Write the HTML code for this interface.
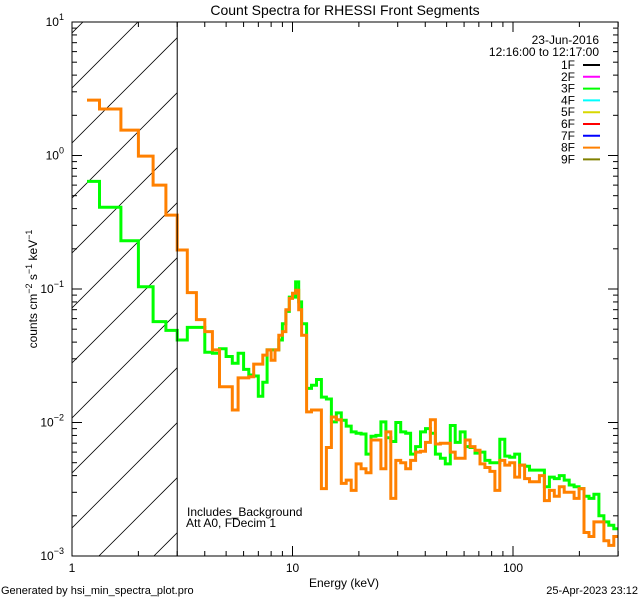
<!DOCTYPE html>
<html><head><meta charset="utf-8"><style>
html,body{margin:0;padding:0;background:#fff;width:640px;height:600px;overflow:hidden;}
svg{display:block;font-family:"Liberation Sans",sans-serif;}
</style></head><body>
<svg id="chart" width="640" height="600" viewBox="0 0 640 600" xmlns="http://www.w3.org/2000/svg">
<rect width="640" height="600" fill="#fff"/>
<defs><clipPath id="plotclip"><rect x="72" y="22" width="546" height="534"/></clipPath>
<clipPath id="hatchclip"><rect x="72" y="22" width="105" height="534"/></clipPath></defs>
<text x="345" y="15" font-size="14" text-anchor="middle">Count Spectra for RHESSI Front Segments</text>
<g id="hatch" clip-path="url(#hatchclip)"></g>
<g id="series" clip-path="url(#plotclip)"></g>
<g id="axes"></g>
<text transform="translate(37,289) rotate(-90)" font-size="12" text-anchor="middle">counts cm<tspan dy="-5" font-size="9">−2</tspan><tspan dy="5"> s</tspan><tspan dy="-5" font-size="9">−1</tspan><tspan dy="5"> keV</tspan><tspan dy="-5" font-size="9">−1</tspan></text>
<text x="344" y="587" font-size="12" text-anchor="middle">Energy (keV)</text>
<text x="599" y="44" font-size="12" text-anchor="end">23-Jun-2016</text>
<text x="599" y="56" font-size="12" text-anchor="end">12:16:00 to 12:17:00</text>
<g id="legend"></g>
<text x="187" y="516" font-size="12">Includes_Background</text>
<text x="186" y="527" font-size="12">Att A0, FDecim 1</text>
<text x="1" y="594" font-size="11">Generated by hsi_min_spectra_plot.pro</text>
<text x="638" y="594" font-size="11" text-anchor="end">25-Apr-2023 23:12</text>
</svg>
<script>
// ---- data ----
const lowEdges = [1.17,1.333,1.667,2.0,2.333,2.667,3.0,3.333,3.667,4.0,4.333,4.667,5.0,5.333,5.667,6.0,6.333,6.667,7.0,7.333,7.667,8.0,8.333,8.667,9.0,9.333,9.667,10.0,10.333,10.667,11.0];
const highBinCount = 64;
const highBinRatio = 1.0531;
const green3F = [0.64,0.41,0.23,0.104,0.057,0.049,
 0.0415,0.0516,0.0516,0.0336,0.033,0.0357,0.0312,0.0278,0.033,0.025,0.0227,0.0223,0.0157,0.020,0.035,0.035,0.035,0.0415,0.055,0.068,0.087,0.087,0.113,0.08,
 0.055,0.018,0.019,0.021,0.0155,0.015,0.0101,0.0118,0.0104,0.0094,0.0085,0.0083,0.0082,0.0058,0.0079,0.008,0.0101,0.0077,0.0072,0.01,0.0085,
 0.0083,0.0058,0.0066,0.0085,0.009,0.0083,0.0058,0.0054,0.0049,0.0095,0.0071,0.0085,0.0066,0.0065,0.0059,0.006,0.0052,0.005,0.005,0.0075,0.0056,
 0.0055,0.0058,0.0048,0.0047,0.0044,0.0044,0.0044,0.0033,0.0039,0.0038,0.004,0.0037,0.0034,0.0033,0.0032,0.0028,0.0027,0.0029,0.002,0.0018,0.0017,0.0016];
const orange8F = [2.6,2.23,1.55,0.99,0.60,0.358,
 0.196,0.094,0.059,0.048,0.035,0.0185,0.0185,0.0124,0.0216,0.0216,0.022,0.0274,0.0274,0.032,0.035,0.0293,0.035,0.045,0.048,0.070,0.085,0.093,0.098,0.07,
 0.045,0.012,0.0124,0.0124,0.0032,0.0065,0.011,0.0105,0.0035,0.0037,0.0031,0.0049,0.0045,0.0042,0.0074,0.0074,0.0045,0.0085,0.0027,0.0052,0.005,
 0.0045,0.0052,0.006,0.0061,0.0071,0.0105,0.0069,0.007,0.007,0.006,0.0054,0.0054,0.0074,0.0066,0.0062,0.0049,0.0046,0.0043,0.0031,0.0052,0.0048,
 0.005,0.0039,0.0048,0.0038,0.0036,0.0036,0.004,0.0026,0.0031,0.0028,0.0033,0.003,0.003,0.0027,0.0032,0.0015,0.0014,0.0018,0.0018,0.0013,0.0012,0.0014];
const xTickMajor = [1,10,100];
const xTickLabels = ["1","10","100"];
const yTickExps = [-3,-2,-1,0,1];
const legendLabels = ["1F","2F","3F","4F","5F","6F","7F","8F","9F"];
const legendColors = ["#000000","#ff00ff","#00ff00","#00ffff","#d8d800","#ff0000","#0000ff","#ff8000","#808000"];

// ---- scales ----
const X0=72,X1=618,Y0=22,Y1=556;
const xMin=1, xDec=220.5;
const yTopExp=1, yDec=(Y1-Y0)/4;
const xs = e => X0 + Math.log10(e/xMin)*xDec;
const ys = v => Y0 + (yTopExp - Math.log10(v))*yDec;
const NS="http://www.w3.org/2000/svg";
const svg=document.getElementById('chart');
function mk(tag,attrs,parent){const el=document.createElementNS(NS,tag);for(const k in attrs)el.setAttribute(k,attrs[k]);parent.appendChild(el);return el;}

const edges = lowEdges.slice();
for(let i=0;i<highBinCount;i++) edges.push(edges[edges.length-1]*highBinRatio);

// hatch: 45-degree lines, 55px vertical spacing
const hatch=document.getElementById('hatch');
const hx=xs(3);
for(let c=37.7-55*2;c<Y1+10;c+=55){
  const ln=mk('line',{x1:X0,y1:c+(hx-X0),x2:hx,y2:c,stroke:'#000','stroke-width':0.8},hatch);
  
  
}
const att=mk('line',{x1:hx,y1:Y0,x2:hx,y2:Y1,stroke:'#000','stroke-width':1},svg);



function stepPath(vals){
  let d='';
  for(let i=0;i<vals.length;i++){
    const xa=xs(edges[i]).toFixed(1), xb=xs(edges[i+1]).toFixed(1), y=ys(vals[i]).toFixed(1);
    d += (i===0?'M':'L')+xa+','+y+'L'+xb+','+y;
  }
  return d;
}
const sg=document.getElementById('series');
const pg=mk('path',{d:stepPath(green3F),fill:'none',stroke:'#00ff00','stroke-width':3},sg);


const po=mk('path',{d:stepPath(orange8F),fill:'none',stroke:'#ff8000','stroke-width':3},sg);



const ax=document.getElementById('axes');
const frame=mk('rect',{x:X0,y:Y0,width:X1-X0,height:Y1-Y0,fill:'none',stroke:'#000','stroke-width':1},ax);


for(let d=0;d<3;d++){
  for(let m=1;m<=9;m++){
    const e=xTickMajor[d]*m; const x=xs(e); if(x>X1+0.5) continue;
    const L=(m===1)?10:5;
    const tb=mk('line',{x1:x,y1:Y1,x2:x,y2:Y1-L,stroke:'#000'},ax);
    
    
    const tt=mk('line',{x1:x,y1:Y0,x2:x,y2:Y0+L,stroke:'#000'},ax);
    
    
  }
  const lb=mk('text',{x:xs(xTickMajor[d]),y:572,'font-size':12,'text-anchor':'middle'},ax);
  lb.textContent=xTickLabels[d];
  
  
}
yTickExps.forEach((p)=>{
  const base=Math.pow(10,p);
  for(let m=1;m<=9;m++){
    if(p===1&&m>1) continue;
    const y=ys(base*m); const L=(m===1)?10:5;
    const tl=mk('line',{x1:X0,y1:y,x2:X0+L,y2:y,stroke:'#000'},ax);
    
    
    const tr=mk('line',{x1:X1,y1:y,x2:X1-L,y2:y,stroke:'#000'},ax);
    
    
  }
  const t=mk('text',{x:64,y:ys(base)+4,'font-size':12,'text-anchor':'end'},ax);
  
  
  const a=mk('tspan',{},t); a.textContent='10';
  const b=mk('tspan',{dy:-6,'font-size':9},t); b.textContent=(p<0?'−':'')+Math.abs(p);
});

const lg=document.getElementById('legend');
legendLabels.forEach((lab,i)=>{
  const y=65+i*11.8;
  const g=mk('g',{},lg);
  
  
  const t=mk('text',{x:575,y:y+4,'font-size':12,'text-anchor':'end'},g); t.textContent=lab;
  mk('line',{x1:583,y1:y,x2:600,y2:y,stroke:legendColors[i],'stroke-width':2},g);
});
</script>
</body></html>
